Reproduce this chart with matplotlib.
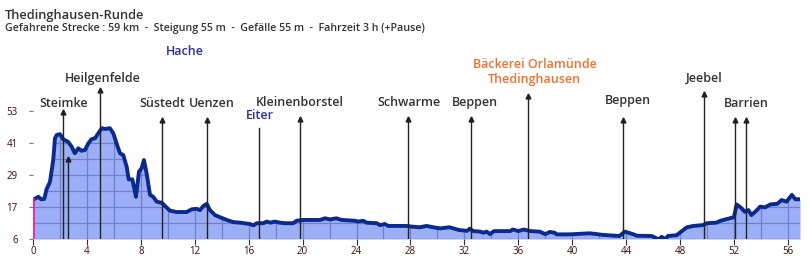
import numpy as np
import matplotlib.pyplot as plt

# Profile data (km, m)
km = [0.07, 0.4, 0.6, 0.84, 1.0, 1.26, 1.5, 1.63, 1.76, 2.0, 2.25, 2.6, 2.87, 3.1, 3.36,
      3.6, 3.86, 4.1, 4.35, 4.6, 4.9, 5.1, 5.34, 5.7, 5.96, 6.2, 6.45, 6.7, 6.95, 7.1,
      7.37, 7.64, 7.86, 8.06, 8.23, 8.43, 8.68, 8.92, 9.18, 9.55, 9.8, 10.16, 10.66, 11.4,
      11.77, 12.14, 12.39, 12.63, 12.89, 13.13, 13.5, 13.87, 14.37, 14.86, 15.36, 16.1,
      16.34, 16.6, 17.08, 17.34, 17.6, 17.95, 18.3, 18.7, 19.3, 19.56, 20.05, 21.3, 21.66,
      22.03, 22.5, 22.9, 23.9, 24.1, 24.5, 24.75, 25.5, 25.74, 26.1, 26.36, 27.7, 28.2,
      28.7, 29.2, 29.7, 30.2, 30.9, 31.6, 32.2, 32.4, 32.66, 33.2, 33.4, 33.66, 33.9,
      34.2, 35.4, 35.6, 36.0, 36.4, 36.9, 37.6, 38.0, 38.35, 38.7, 38.85, 39.8, 41.3,
      42.3, 43.5, 43.9, 44.5, 44.8, 45.9, 46.4, 46.64, 46.9, 47.1, 47.75, 48.5, 49.0,
      49.7, 50.0, 50.7, 51.0, 51.7, 52.0, 52.2, 52.57, 52.8, 53.07, 53.3, 53.7, 53.95,
      54.3, 54.7, 55.2, 55.54, 55.9, 56.3, 56.55, 56.9]
elev = [20.6, 21.5, 20.6, 20.7, 24.2, 27.0, 35.0, 43.0, 44.2, 44.5, 42.6, 41.7, 39.9, 37.5, 39.3,
        38.4, 38.7, 41.1, 42.7, 43.0, 45.2, 46.7, 46.4, 46.7, 44.8, 41.1, 37.5, 36.8, 32.5, 27.9,
        27.9, 21.5, 30.7, 32.0, 35.0, 30.1, 22.2, 21.5, 19.7, 19.3, 18.1, 16.4, 15.9, 15.9,
        16.9, 17.1, 16.6, 18.1, 18.9, 16.6, 14.8, 14.0, 13.0, 12.2, 12.0, 11.5,
        11.0, 11.8, 11.8, 12.4, 12.0, 12.4, 12.0, 11.8, 11.8, 12.7, 13.0, 13.0, 13.6,
        13.2, 13.6, 13.0, 12.7, 12.4, 12.7, 12.0, 11.8, 11.1, 11.5, 10.8, 10.8, 10.5,
        10.3, 10.8, 10.3, 9.9, 10.3, 9.3, 9.0, 9.8, 8.9, 8.7, 8.3, 8.7, 7.8,
        8.9, 8.9, 9.5, 8.9, 9.5, 8.9, 8.7, 7.8, 8.6, 8.3, 7.7, 7.7, 8.1,
        7.5, 7.1, 8.7, 7.8, 7.2, 7.1, 5.9, 6.8, 5.9, 7.1, 7.4, 10.3, 10.8,
        11.1, 11.8, 12.0, 12.7, 13.6, 14.0, 18.7, 17.3, 16.0, 16.6, 14.8, 16.6, 17.9,
        17.6, 18.7, 18.9, 20.3, 19.7, 22.2, 20.6, 20.6]

# Waypoints: km position, arrow tip (m), arrow head or not
wp_km = [2.2, 2.6, 5.0, 9.6, 12.9, 16.8, 19.8, 27.8, 32.5, 36.7, 43.8, 49.8, 52.1, 52.9]
wp_tip = [53.3, 35.9, 61.2, 50.4, 50.4, 46.8, 50.8, 50.8, 50.8, 59.0, 50.4, 59.9, 50.4, 50.4]
wp_arrow = [True, True, True, True, True, False, True, True, True, True, True, True, True, True]

labels = ["Steimke", "Heilgenfelde", "Süstedt", "Uenzen", "Eiter", "Kleinenborstel",
          "Schwarme", "Beppen", "Bäckerei Orlamünde\nThedinghausen", "Beppen", "Jeebel",
          "Barrien", "Hache"]
label_x = [2.25, 5.15, 9.6, 13.25, 16.85, 19.8, 27.9, 32.8, 37.2, 44.1, 49.8, 52.95, 11.3]
label_y = [55.9, 64.8, 55.9, 55.9, 51.5, 56.3, 56.3, 56.3, 67.5, 56.7, 65.1, 55.9, 74.7]
label_col = ["#333333"] * 4 + ["#2e2e9a"] + ["#333333"] * 3 + ["#f07030"] + ["#333333"] * 3 + ["#2e2e9a"]

xticks = np.arange(0, 57, 4)
yticks = [6, 17.75, 29.5, 41.25, 53]
ytick_labels = ["6", "17", "29", "41", "53"]

plt.rcParams['font.family'] = ['Open Sans', 'DejaVu Sans']

fig = plt.figure(figsize=(8.09, 2.68), dpi=100)
ax = fig.add_axes([33 / 809, 29 / 268, 767 / 809, 199 / 268])
ax.set_xlim(0, 56.9)
ax.set_ylim(6, 6 + 199 / 2.723)
for s in ax.spines.values():
    s.set_visible(False)

fill = ax.fill_between(km, elev, 6, color="#9caef6", lw=0, zorder=1)
clip = fill.get_paths()[0]

# grid only on the filled area
grid_lines = []
for gx in np.arange(2, 57, 2):
    grid_lines += ax.plot([gx, gx], [6, 60], color="#6f80cc", lw=0.9, zorder=2)
for gy in np.arange(6, 60, 5.875):
    grid_lines += ax.plot([0, 57], [gy, gy], color="#6f80cc", lw=0.9, zorder=2)
for ln in grid_lines:
    ln.set_clip_path(clip, ax.transData)

ax.plot(km, elev, color="#0b2a8e", lw=2.8, solid_joinstyle="round", zorder=4)
ax.plot([0.07, 0.07], [6, elev[0]], color="#ff1493", lw=1.3, zorder=5)

# waypoint arrows
for x, tip, arr in zip(wp_km, wp_tip, wp_arrow):
    ax.plot([x, x], [6, tip], color="#222222", lw=1.0, zorder=5)
    if arr:
        ax.plot(x, tip - 0.6, marker="^", ms=3.5, color="#222222", zorder=5)

for t, x, y, c in zip(labels, label_x, label_y, label_col):
    ax.text(x, y, t, ha="center", va="center", fontsize=9, color=c,
            fontweight="semibold", linespacing=1.2, zorder=6)

ax.set_xticks(xticks)
ax.set_xticklabels([str(v) for v in xticks], fontsize=7, color="#3a0a0a")
ax.set_yticks(yticks)
ax.set_yticklabels(ytick_labels, fontsize=7, color="#3a0a0a")
ax.tick_params(axis="x", length=4, color="#333333", width=0.8, pad=1)
ax.tick_params(axis="y", length=3, color="#777777", width=0.8, pad=8)

fig.text(5 / 809, 1 - 15 / 268, "Thedinghausen-Runde", fontsize=9.3, fontweight="semibold",
         color="#333333", va="center")
fig.text(5 / 809, 1 - 29 / 268,
         "Gefahrene Strecke : 59 km  -  Steigung 55 m  -  Gefälle 55 m  -  Fahrzeit 3 h (+Pause)",
         fontsize=7.7, fontweight="semibold", color="#333333", va="center")

fig.savefig("out.png", dpi=100)
